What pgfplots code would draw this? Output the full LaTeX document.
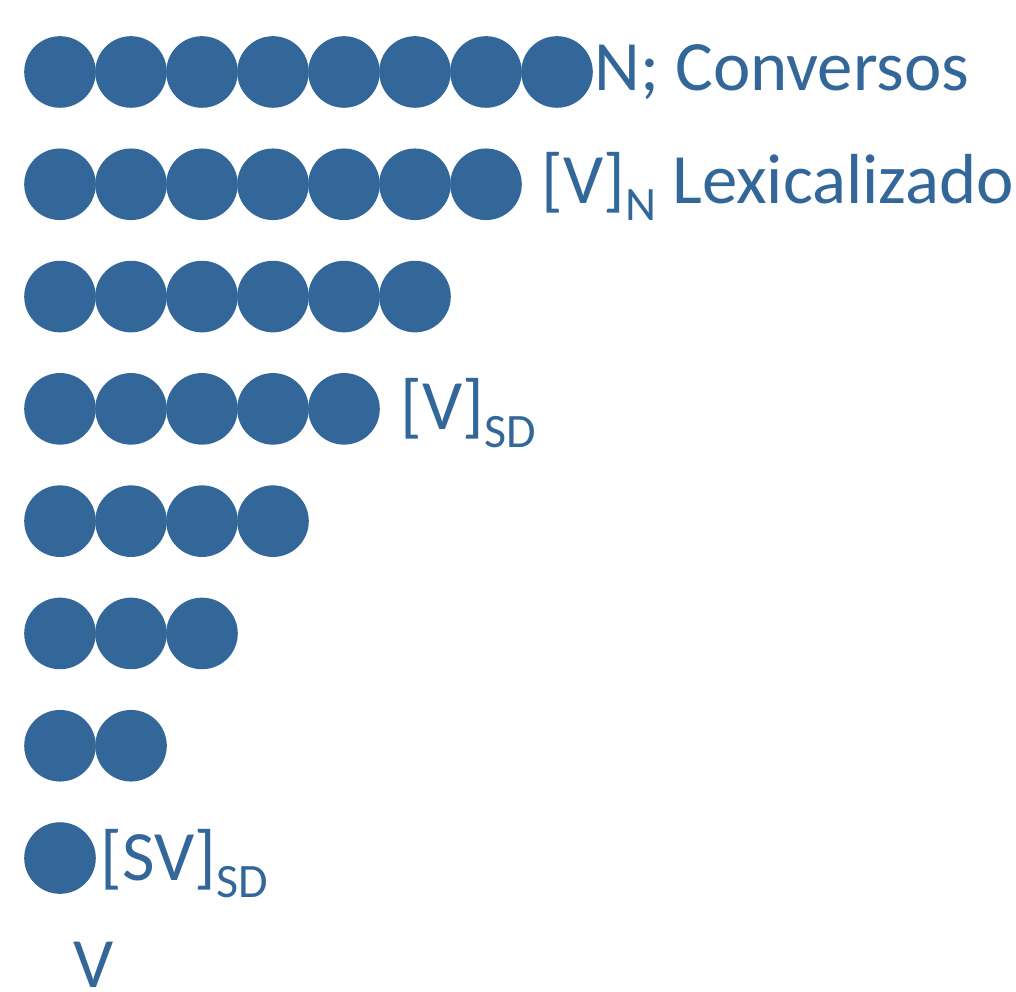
\documentclass[border=0pt]{standalone}
\usepackage{fontspec}
\setmainfont{Carlito}
\usepackage{pgfplots}
\pgfplotsset{compat=1.18}
\definecolor{dotblue}{RGB}{51,103,153}
\newcommand{\sub}[1]{\raisebox{-4.3pt}{\fontsize{12}{12}\selectfont #1}}
\begin{document}
\begin{tikzpicture}
\begin{axis}[
  scale only axis,
  width=254pt, height=247.75pt,
  xmin=0.1549, xmax=14.465,
  ymin=-0.1843, ymax=8.641,
  hide axis, clip=false,
]
\path (rel axis cs:0,0) rectangle (rel axis cs:1,1);
\addplot[only marks, color=dotblue, mark=*, mark size=8.75pt, mark options={draw=dotblue, fill=dotblue}] coordinates {
 (1,8) (2,8) (3,8) (4,8) (5,8) (6,8) (7,8) (8,8)
 (1,7) (2,7) (3,7) (4,7) (5,7) (6,7) (7,7)
 (1,6) (2,6) (3,6) (4,6) (5,6) (6,6)
 (1,5) (2,5) (3,5) (4,5) (5,5)
 (1,4) (2,4) (3,4) (4,4)
 (1,3) (2,3) (3,3)
 (1,2) (2,2)
 (1,1)
};
\begin{scope}[every node/.style={anchor=base west, inner sep=0pt, text=dotblue, font=\fontsize{17.7}{20}\selectfont}]
\node at (axis cs:8.521,7.831) {N; Conversos};
\node at (axis cs:7.775,6.833) {[V]\sub{N} Lexicalizado};
\node at (axis cs:5.789,4.812) {[V]\sub{SD}};
\node at (axis cs:1.563,0.804) {[SV]\sub{SD}};
\node at (axis cs:1.183,-0.15) {V};
\end{scope}
\end{axis}
\end{tikzpicture}
\end{document}
